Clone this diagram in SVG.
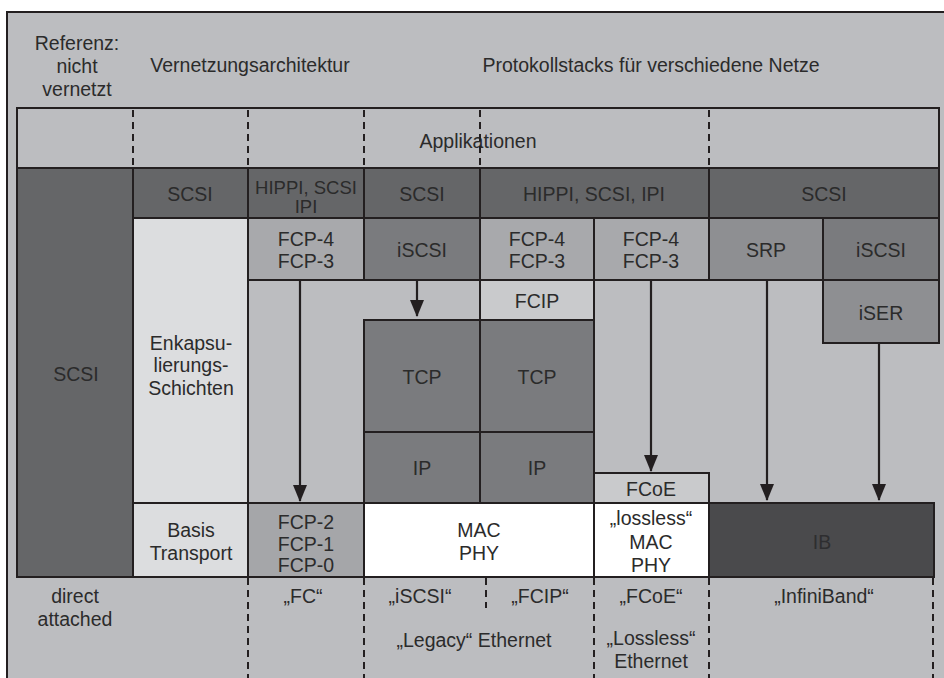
<svg xmlns="http://www.w3.org/2000/svg" width="944" height="678" viewBox="0 0 944 678">
<style>
text{font-family:"Liberation Sans",Arial,sans-serif;font-size:19.5px;fill:#2b2b2b;text-anchor:middle}
.b{stroke:#231f20;stroke-width:2}
.dk{fill:#656668}
.md{fill:#7a7b7e}
.sr{fill:#8e8f92}
.fc{fill:#a8a9ac}
.lt{fill:#c9cacc}
.vl{fill:#dcdddf}
.wh{fill:#ffffff}
.ib{fill:#4a4a4c}
.bg{fill:#bcbdc0}
.dash{stroke:#231f20;stroke-width:2;stroke-dasharray:7 5;fill:none}
.ar{stroke:#231f20;stroke-width:2.2;fill:none}
</style>
<defs>
<marker id="ah" markerUnits="userSpaceOnUse" markerWidth="17" markerHeight="14" refX="16" refY="7" orient="auto" viewBox="0 0 17 14">
<path d="M0,0 L17,7 L0,14 Z" fill="#231f20"/>
</marker>
</defs>
<rect x="0" y="0" width="944" height="678" fill="#ffffff"/>
<rect x="7" y="12" width="960" height="700" class="bg b" stroke-width="2.5"/>
<g id="header">
<text x="77" y="50">Referenz:</text>
<text x="77" y="73">nicht</text>
<text x="77" y="96">vernetzt</text>
<text x="250" y="72">Vernetzungsarchitektur</text>
<text x="651" y="72">Protokollstacks für verschiedene Netze</text>
</g>
<g id="applikationen"><rect x="17" y="108" width="922" height="60" class="bg b"/><text x="478" y="148">Applikationen</text></g>
<g id="scsi-ref"><rect x="17" y="168" width="116" height="409" class="dk b"/><text x="76" y="381">SCSI</text></g>
<g id="scsi-1"><rect x="133" y="168" width="115" height="50" class="dk b"/><text x="190" y="201">SCSI</text></g>
<g id="hippi-1"><rect x="248" y="168" width="116" height="50" class="dk b"/><text x="306" y="194" style="font-size:18.5px">HIPPI, SCSI</text><text x="306" y="213" style="font-size:18.5px">IPI</text></g>
<g id="scsi-2"><rect x="364" y="168" width="116" height="50" class="dk b"/><text x="422" y="201">SCSI</text></g>
<g id="hippi-2"><rect x="480" y="168" width="229" height="50" class="dk b"/><text x="594" y="201">HIPPI, SCSI, IPI</text></g>
<g id="scsi-3"><rect x="709" y="168" width="230" height="50" class="dk b"/><text x="824" y="201">SCSI</text></g>
<g id="enkaps"><rect x="133" y="218" width="115" height="285" class="vl b"/><text x="191" y="350">Enkapsu-</text><text x="191" y="372">lierungs-</text><text x="191" y="395">Schichten</text></g>
<g id="basis"><rect x="133" y="503" width="115" height="74" class="vl b"/><text x="191" y="537">Basis</text><text x="191" y="560">Transport</text></g>
<g id="fcp43-1"><rect x="248" y="218" width="116" height="62" class="fc b"/><text x="306" y="246">FCP-4</text><text x="306" y="268">FCP-3</text></g>
<g id="iscsi-1"><rect x="364" y="218" width="116" height="62" class="md b"/><text x="422" y="257">iSCSI</text></g>
<g id="fcp43-2"><rect x="480" y="218" width="114" height="62" class="fc b"/><text x="537" y="246">FCP-4</text><text x="537" y="268">FCP-3</text></g>
<g id="fcp43-3"><rect x="594" y="218" width="115" height="62" class="fc b"/><text x="651" y="246">FCP-4</text><text x="651" y="268">FCP-3</text></g>
<g id="srp"><rect x="709" y="218" width="114" height="62" class="sr b"/><text x="766" y="257">SRP</text></g>
<g id="iscsi-2"><rect x="823" y="218" width="116" height="62" class="md b"/><text x="881" y="257">iSCSI</text></g>
<g id="fcip"><rect x="480" y="280" width="114" height="40" class="lt b"/><text x="537" y="308">FCIP</text></g>
<g id="iser"><rect x="823" y="280" width="116" height="63" class="sr b"/><text x="881" y="320">iSER</text></g>
<g id="tcp-1"><rect x="364" y="320" width="116" height="112" class="md b"/><text x="422" y="384">TCP</text></g>
<g id="tcp-2"><rect x="480" y="320" width="114" height="112" class="md b"/><text x="537" y="384">TCP</text></g>
<g id="ip-1"><rect x="364" y="432" width="116" height="71" class="md b"/><text x="422" y="475">IP</text></g>
<g id="ip-2"><rect x="480" y="432" width="114" height="71" class="md b"/><text x="537" y="475">IP</text></g>
<g id="fcoe"><rect x="594" y="473" width="115" height="30" class="lt b"/><text x="651" y="496">FCoE</text></g>
<g id="fcp210"><rect x="248" y="503" width="116" height="74" class="fc b" style="fill:#a5a6a9"/><text x="306" y="529">FCP-2</text><text x="306" y="551">FCP-1</text><text x="306" y="572">FCP-0</text></g>
<g id="macphy"><rect x="364" y="503" width="230" height="74" class="wh b"/><text x="479" y="537">MAC</text><text x="479" y="560">PHY</text></g>
<g id="lossless"><rect x="594" y="503" width="115" height="74" class="wh b"/><text x="651" y="525">„lossless“</text><text x="651" y="549">MAC</text><text x="651" y="572">PHY</text></g>
<g id="ib"><rect x="709" y="503" width="225" height="74" class="ib b"/><text x="822" y="549" style="fill:#2e2e30">IB</text></g>
<g id="dividers">
<line x1="133" y1="110" x2="133" y2="168" class="dash"/>
<line x1="248" y1="110" x2="248" y2="168" class="dash"/>
<line x1="364" y1="110" x2="364" y2="168" class="dash"/>
<line x1="480" y1="110" x2="480" y2="168" class="dash"/>
<line x1="709" y1="110" x2="709" y2="168" class="dash"/>
<line x1="248" y1="578" x2="248" y2="678" class="dash"/>
<line x1="364" y1="578" x2="364" y2="678" class="dash"/>
<line x1="486" y1="578" x2="486" y2="608" class="dash"/>
<line x1="594" y1="578" x2="594" y2="678" class="dash"/>
<line x1="709" y1="578" x2="709" y2="678" class="dash"/>
<line x1="933" y1="578" x2="933" y2="678" class="dash"/>
</g>
<g id="connectors">
<line x1="300" y1="281" x2="300" y2="501" class="ar" marker-end="url(#ah)"/>
<line x1="417" y1="281" x2="417" y2="316" class="ar" marker-end="url(#ah)"/>
<line x1="651" y1="281" x2="651" y2="471" class="ar" marker-end="url(#ah)"/>
<line x1="767" y1="281" x2="767" y2="500" class="ar" marker-end="url(#ah)"/>
<line x1="879" y1="344" x2="879" y2="500" class="ar" marker-end="url(#ah)"/>
</g>
<g id="footer">
<text x="75" y="603">direct</text>
<text x="75" y="626">attached</text>
<text x="303" y="603">„FC“</text>
<text x="420" y="603">„iSCSI“</text>
<text x="540" y="603">„FCIP“</text>
<text x="651" y="603">„FCoE“</text>
<text x="824" y="603">„InfiniBand“</text>
<text x="474" y="647">„Legacy“ Ethernet</text>
<text x="651" y="645">„Lossless“</text>
<text x="651" y="668">Ethernet</text>
</g>
</svg>
